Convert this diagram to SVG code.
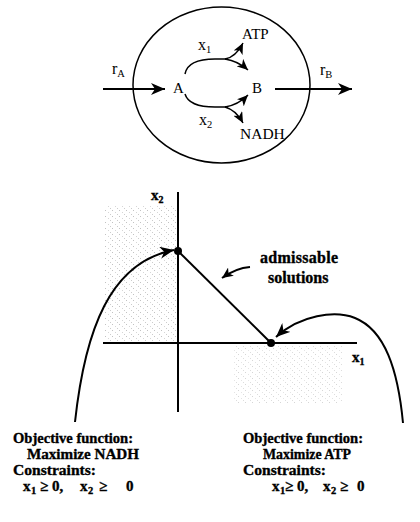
<svg xmlns="http://www.w3.org/2000/svg" width="420" height="522" viewBox="0 0 420 522">
<style>
.ln{fill:none;stroke:#000;stroke-width:2}
.th{fill:none;stroke:#000;stroke-width:1.5}
.t{font-family:"Liberation Serif",serif;fill:#000}
.b{font-family:"Liberation Serif",serif;font-weight:bold;fill:#000;stroke:#000;stroke-width:0.35}
</style>
<defs>
<marker id="big" markerUnits="userSpaceOnUse" markerWidth="16" markerHeight="12" refX="14" refY="6" orient="auto">
<path d="M0,0 L14,6 L0,12 L4,6 Z" fill="#000"/>
</marker>
<marker id="sm" markerUnits="userSpaceOnUse" markerWidth="12" markerHeight="10" refX="11" refY="5" orient="auto">
<path d="M0,0 L11,5 L0,10 L3,5 Z" fill="#000"/>
</marker>
<pattern id="dots" width="7" height="6" patternUnits="userSpaceOnUse">
<rect x="0" y="0" width="1" height="1" fill="#999"/>
<rect x="3" y="2" width="1" height="1" fill="#bbb"/>
<rect x="5" y="4" width="1" height="1" fill="#aaa"/>
</pattern>
</defs>

<g id="shading">
<rect x="104" y="206" width="72" height="136" fill="url(#dots)" opacity="0.6"/>
<rect x="232" y="346" width="110" height="58" fill="url(#dots)" opacity="0.4"/>
</g>

<g id="cell">
<ellipse cx="221.5" cy="85" rx="88.5" ry="78" class="th"/>
</g>
<g id="nodeA"><text class="t" x="173" y="93" font-size="15">A</text></g>
<g id="nodeB"><text class="t" x="252" y="93" font-size="15">B</text></g>
<g id="nodeATP"><text class="t" x="242" y="39" font-size="15">ATP</text></g>
<g id="nodeNADH"><text class="t" x="240" y="139" font-size="15.5">NADH</text></g>
<g id="labels-top">
<text class="t" x="112" y="74" font-size="16">r<tspan font-size="10.5" dy="3">A</tspan></text>
<text class="t" x="320" y="75" font-size="16">r<tspan font-size="10.5" dy="3">B</tspan></text>
<text class="t" x="198" y="50" font-size="16">x<tspan font-size="10.5" dy="3">1</tspan></text>
<text class="t" x="199" y="125" font-size="16">x<tspan font-size="10.5" dy="3">2</tspan></text>
</g>

<g id="connectors">
<line x1="103" y1="89" x2="165" y2="89" class="ln" marker-end="url(#big)"/>
<line x1="275" y1="89" x2="352" y2="89" class="ln" marker-end="url(#big)"/>
<path d="M185,74 C187,63 200,59 215,59 L228,59" class="th"/>
<path d="M225,59 Q236,57 243,43" class="th" marker-end="url(#sm)"/>
<path d="M225,59 Q238,61 248,70" class="th" marker-end="url(#sm)"/>
<path d="M185,94 C188,104 200,107 215,107 L228,107" class="th"/>
<path d="M225,107 Q238,105 248,95" class="th" marker-end="url(#sm)"/>
<path d="M225,107 Q236,110 243,123" class="th" marker-end="url(#sm)"/>
</g>

<g id="chart">
<line x1="178" y1="192" x2="178" y2="412" class="ln"/>
<line x1="103" y1="343" x2="357" y2="343" class="ln"/>
<line x1="178" y1="251" x2="271" y2="343" class="ln"/>
<circle cx="178" cy="251" r="4" fill="#000"/>
<circle cx="271" cy="343" r="4" fill="#000"/>
<text class="b" x="151" y="200" font-size="15">x<tspan font-size="10" dy="3">2</tspan></text>
<text class="b" x="352" y="362" font-size="15">x<tspan font-size="10" dy="3">1</tspan></text>
<path d="M75,422 C85,330 110,262 174,250" class="ln" marker-end="url(#big)"/>
<path d="M403,423 C398,370 385,330 355,318 C335,310 300,315 276,337" class="ln" marker-end="url(#big)"/>
<path d="M250,267 Q236,268 222,278" class="ln" marker-end="url(#sm)"/>
<text class="b" x="260" y="263" font-size="16" textLength="78">admissable</text>
<text class="b" x="268" y="283" font-size="16">solutions</text>
</g>

<g id="left-text" font-size="15">
<text class="b" x="13" y="443" textLength="120" lengthAdjust="spacingAndGlyphs">Objective function:</text>
<text class="b" x="27" y="459" textLength="112" lengthAdjust="spacingAndGlyphs">Maximize NADH</text>
<text class="b" x="13" y="475" textLength="83" lengthAdjust="spacingAndGlyphs">Constraints:</text>
<text class="b" x="23" y="491">x</text><text class="b" x="31" y="494" font-size="10.5">1</text>
<text class="b" x="40" y="491">≥ 0,</text>
<text class="b" x="80" y="491">x</text><text class="b" x="88" y="494" font-size="10.5">2</text>
<text class="b" x="99" y="491">≥</text><text class="b" x="126" y="491">0</text>
</g>
<g id="right-text" font-size="15">
<text class="b" x="243" y="443" textLength="120" lengthAdjust="spacingAndGlyphs">Objective function:</text>
<text class="b" x="263" y="459" textLength="88" lengthAdjust="spacingAndGlyphs">Maximize ATP</text>
<text class="b" x="243" y="475" textLength="83" lengthAdjust="spacingAndGlyphs">Constraints:</text>
<text class="b" x="272" y="491">x</text><text class="b" x="280" y="494" font-size="10.5">1</text>
<text class="b" x="285" y="491">≥ 0,</text>
<text class="b" x="323" y="491">x</text><text class="b" x="331" y="494" font-size="10.5">2</text>
<text class="b" x="340" y="491">≥</text><text class="b" x="357" y="491">0</text>
</g>
</svg>
